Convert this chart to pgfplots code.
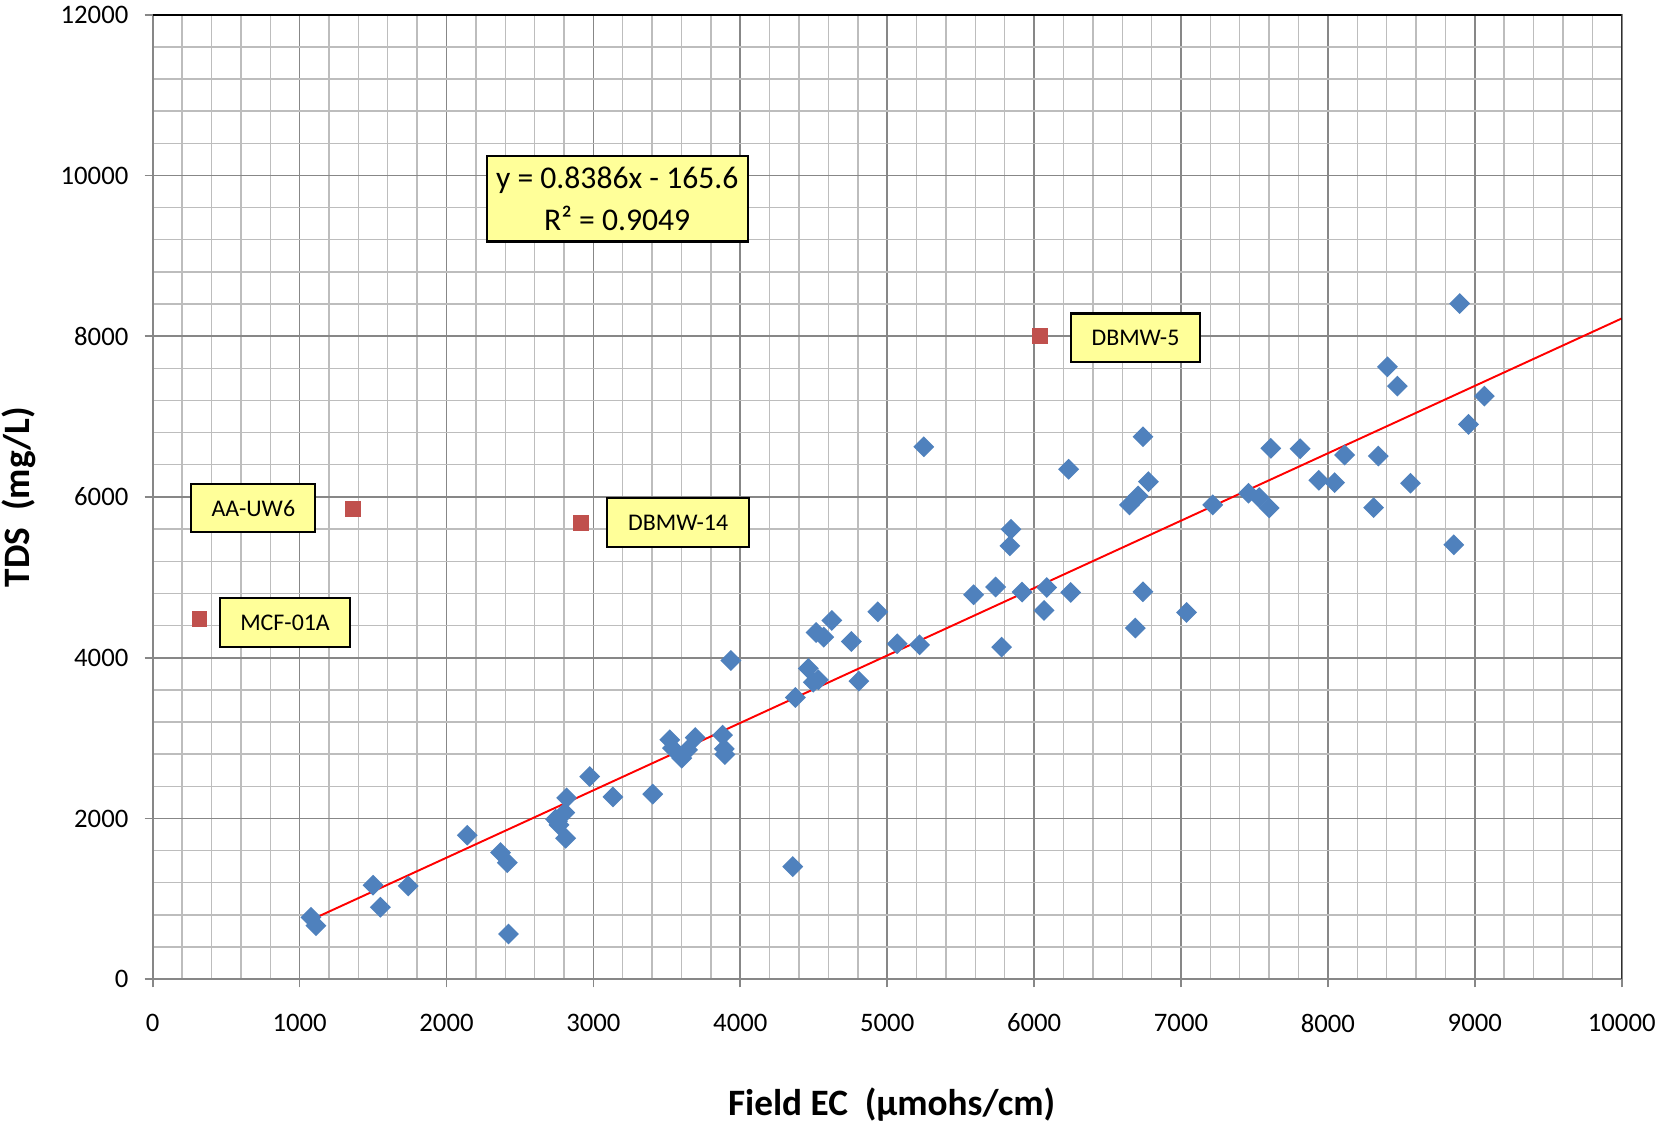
\documentclass[border=0pt]{standalone}
\usepackage{fontspec}
\setmainfont{Carlito}
\usepackage{pgfplots}
\pgfplotsset{compat=1.18}
\definecolor{ptblue}{HTML}{4F81BD}
\definecolor{ptred}{HTML}{C0504D}
\definecolor{boxyellow}{HTML}{FFFF99}
\definecolor{majgrid}{HTML}{878787}
\definecolor{mingrid}{HTML}{BDBDBD}

\begin{document}
\begin{tikzpicture}
\begin{axis}[
  scale only axis,
  width=146.9mm, height=96.45mm,
  xmin=0, xmax=10000, ymin=0, ymax=12000,
  xtick distance=1000, ytick distance=2000,
  minor x tick num=4, minor y tick num=4,
  grid=both,
  major grid style={majgrid, line width=0.5pt},
  minor grid style={mingrid, line width=0.4pt},
  axis line style={majgrid, line width=0.5pt},
  tick align=outside,
  major tick length=2.3pt,
  minor tick length=0pt,
  tick style={majgrid, line width=0.5pt},
  tick pos=lower,
  scaled ticks=false,
  /pgf/number format/.cd, 1000 sep={}, assume math mode=true, /pgfplots/.cd,
  ticklabel style={font=\fontsize{7.6}{9}\selectfont, black},
  xticklabel shift=4pt,
  yticklabel shift=1.1pt,
  xlabel={Field EC\ \ (µmohs/cm)},
  ylabel={TDS\ \ (mg/L)},
  label style={font=\bfseries\fontsize{10.6}{12}\selectfont},
  xlabel style={at={(axis description cs:0.503,-0.1304)}, anchor=center},
  ylabel style={at={(axis description cs:-0.091,0.5)}, anchor=center},
]
% trendline
\addplot[red, line width=0.55pt, no marks] coordinates {(1077,737.6) (10000,8220.4)};
% wells
\addplot[only marks, mark=square*, mark size=1.9pt,
  mark options={rotate=45, fill=ptblue, draw=ptblue}] coordinates {
(1077,770) (1111,666) (1500,1169) (1550,895) (1739,1160)
(2141,1791) (2368,1575) (2414,1450) (2422,563) (2755,1966)
(2818,2256) (2805,2073) (2743,1990) (2766,1920) (2811,1754)
(2975,2521) (3133,2268) (3404,2302) (3520,2978) (3538,2874)
(3602,2750) (3641,2853) (3693,3006) (3879,3036) (3891,2866)
(3895,2795) (3936,3965) (4357,1401) (4375,3505) (4463,3866)
(4497,3696) (4531,3725) (4516,4314) (4568,4256) (4623,4463)
(4756,4202) (4807,3708) (4936,4571) (5068,4173) (5220,4160)
(5249,6624) (5588,4783) (5738,4879) (5779,4132) (5843,5598)
(5835,5391) (5918,4816) (6086,4874) (6068,4588) (6249,4812)
(6235,6344) (6741,6749) (6778,6190) (6649,5901) (6708,6012)
(6741,4820) (6689,4369) (7038,4563) (7216,5901) (7459,6046)
(7532,5992) (7600,5863) (7611,6605) (7811,6600) (7938,6207)
(8046,6178) (8114,6522) (8343,6509) (8311,5867) (8405,7619)
(8473,7379) (8562,6170) (8857,5404) (8897,8406) (8957,6903)
(9065,7255)
};
% outliers
\addplot[only marks, mark=square*, mark size=2pt,
  mark options={fill=ptred, draw=ptred}] coordinates {
(320,4482) (1365,5849) (2915,5678) (6040,8000)
};
\draw[black, line width=0.6pt] (rel axis cs:0,1) -- (rel axis cs:1,1) -- (rel axis cs:1,0);
\tikzset{lbl/.style={draw=black, line width=0.6pt, fill=boxyellow, inner sep=0pt,
  minimum height=4.86mm, font=\fontsize{6.8}{8}\selectfont}}
\node[draw=black, line width=0.6pt, fill=boxyellow, inner sep=0pt,
  minimum width=26.1mm, minimum height=8.56mm, align=center,
  font=\fontsize{9}{11.8}\selectfont] at (axis cs:3162,9710)
  {y = 0.8386x - 165.6\\R² = 0.9049};
\node[lbl, minimum width=12.9mm] at (axis cs:6690,7980) {DBMW-5};
\node[lbl, minimum width=12.4mm] at (axis cs:685,5862) {AA-UW6};
\node[lbl, minimum width=14.2mm] at (axis cs:3577,5684) {DBMW-14};
\node[lbl, minimum width=13.0mm] at (axis cs:901,4440) {MCF-01A};
\end{axis}
\pgfresetboundingbox
\path ([shift={(-15.27mm,-14.68mm)}]current axis.south west) rectangle ([shift={(3.53mm,1.47mm)}]current axis.north east);
\end{tikzpicture}
\end{document}
